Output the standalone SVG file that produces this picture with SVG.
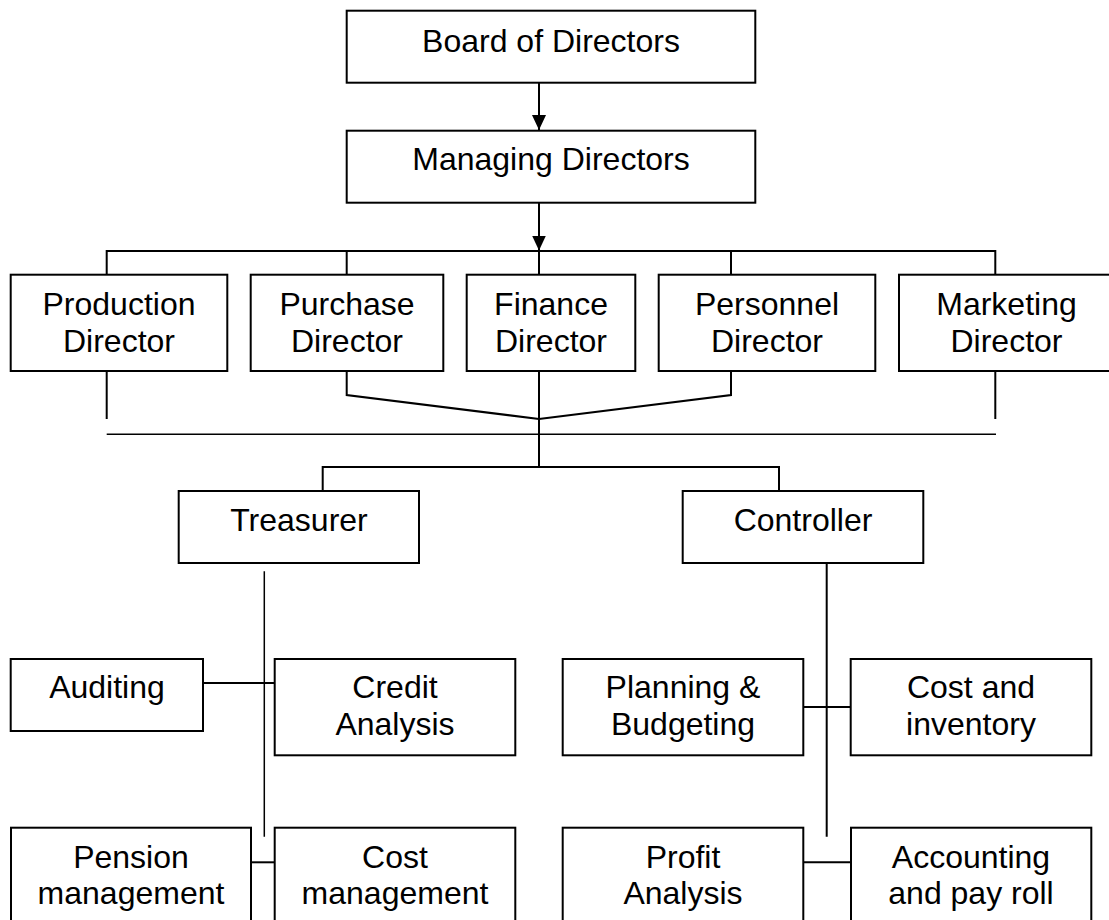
<svg xmlns="http://www.w3.org/2000/svg" width="1109" height="920" viewBox="0 0 1109 920">
<defs>
<style>
.box{fill:#fff;stroke:#000;stroke-width:2}
.t{font-family:"Liberation Sans",Arial,sans-serif;font-size:32px;fill:#000;text-anchor:middle}
.c{fill:none;stroke:#000;stroke-width:2}
.thin{fill:none;stroke:#000;stroke-width:1.5}
</style>
<marker id="arr" viewBox="0 0 15 14" refX="15" refY="7" markerWidth="15" markerHeight="14" markerUnits="userSpaceOnUse" orient="auto">
<path d="M0,0 L15,7 L0,14 Z" fill="#000"/>
</marker>
</defs>
<rect width="1109" height="920" fill="#fff"/>
<g id="connectors">
<line class="c" x1="539" y1="82.7" x2="539" y2="130" marker-end="url(#arr)"/>
<line class="c" x1="539" y1="202.7" x2="539" y2="250.5" marker-end="url(#arr)"/>
<polyline class="c" points="106.7,274.7 106.7,251 995.3,251 995.3,274.7"/>
<line class="c" x1="346.7" y1="251" x2="346.7" y2="274.7"/>
<line class="c" x1="539" y1="251" x2="539" y2="274.7"/>
<line class="c" x1="731" y1="251" x2="731" y2="274.7"/>
<line class="c" x1="106.7" y1="371" x2="106.7" y2="419"/>
<line class="c" x1="995.3" y1="371" x2="995.3" y2="419"/>
<polyline class="c" points="346.7,371 346.7,395 539,419 731,395 731,371"/>
<line class="c" x1="539" y1="371" x2="539" y2="467"/>
<line class="thin" x1="106.7" y1="434.3" x2="996" y2="434.3"/>
<polyline class="c" points="322.7,491 322.7,467 779,467 779,491"/>
<line class="thin" x1="264.3" y1="571.3" x2="264.3" y2="836.7"/>
<line class="c" x1="826.7" y1="563" x2="826.7" y2="836.7"/>
<line class="c" x1="203" y1="683" x2="274.7" y2="683"/>
<line class="c" x1="803.3" y1="707" x2="850.7" y2="707"/>
<line class="c" x1="251" y1="862.3" x2="274.7" y2="862.3"/>
<line class="c" x1="803.3" y1="862.3" x2="851" y2="862.3"/>
</g>
<g id="board"><rect class="box" x="346.7" y="10.7" width="408.6" height="72"/><text class="t" x="551" y="52">Board of Directors</text></g>
<g id="managing"><rect class="box" x="346.7" y="130.7" width="408.6" height="72"/><text class="t" x="551" y="170">Managing Directors</text></g>
<g id="production"><rect class="box" x="10.7" y="274.7" width="216.6" height="96.3"/><text class="t" x="119" y="315">Production</text><text class="t" x="119" y="351.7">Director</text></g>
<g id="purchase"><rect class="box" x="250.7" y="274.7" width="192.6" height="96.3"/><text class="t" x="347" y="315">Purchase</text><text class="t" x="347" y="351.7">Director</text></g>
<g id="finance"><rect class="box" x="466.7" y="274.7" width="168.6" height="96.3"/><text class="t" x="551" y="315">Finance</text><text class="t" x="551" y="351.7">Director</text></g>
<g id="personnel"><rect class="box" x="658.7" y="274.7" width="216.6" height="96.3"/><text class="t" x="767" y="315">Personnel</text><text class="t" x="767" y="351.7">Director</text></g>
<g id="marketing"><rect class="box" x="899" y="274.7" width="215" height="96.3"/><text class="t" x="1006.5" y="315">Marketing</text><text class="t" x="1006.5" y="351.7">Director</text></g>
<g id="treasurer"><rect class="box" x="178.7" y="491" width="240.3" height="72"/><text class="t" x="299" y="531">Treasurer</text></g>
<g id="controller"><rect class="box" x="682.7" y="491" width="240.6" height="72"/><text class="t" x="803" y="531">Controller</text></g>
<g id="auditing"><rect class="box" x="10.7" y="659" width="192.3" height="72"/><text class="t" x="107" y="698.3">Auditing</text></g>
<g id="credit"><rect class="box" x="274.7" y="659" width="240.6" height="96.3"/><text class="t" x="395" y="698.3">Credit</text><text class="t" x="395" y="735">Analysis</text></g>
<g id="planning"><rect class="box" x="562.7" y="659" width="240.6" height="96.3"/><text class="t" x="683" y="698.3">Planning &amp;</text><text class="t" x="683" y="735">Budgeting</text></g>
<g id="costinv"><rect class="box" x="850.7" y="659" width="240.6" height="96.3"/><text class="t" x="971" y="698.3">Cost and</text><text class="t" x="971" y="735">inventory</text></g>
<g id="pension"><rect class="box" x="11" y="827.7" width="240" height="110"/><text class="t" x="131" y="867.5">Pension</text><text class="t" x="131" y="904">management</text></g>
<g id="costmgmt"><rect class="box" x="274.7" y="827.7" width="240.6" height="110"/><text class="t" x="395" y="867.5">Cost</text><text class="t" x="395" y="904">management</text></g>
<g id="profit"><rect class="box" x="562.7" y="827.7" width="240.6" height="110"/><text class="t" x="683" y="867.5">Profit</text><text class="t" x="683" y="904">Analysis</text></g>
<g id="accounting"><rect class="box" x="851" y="827.7" width="240.3" height="110"/><text class="t" x="971" y="867.5">Accounting</text><text class="t" x="971" y="904">and pay roll</text></g>
</svg>
